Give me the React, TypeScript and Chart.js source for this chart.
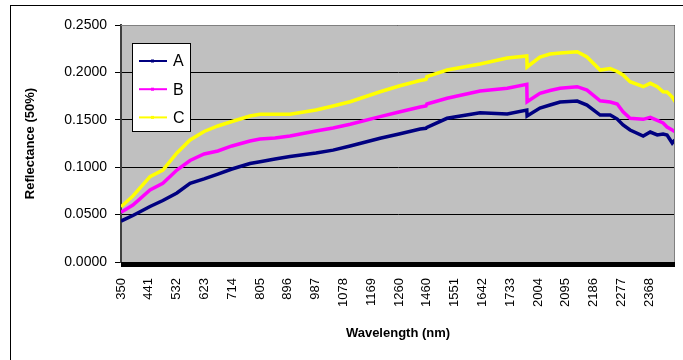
import React, { useEffect, useRef } from 'react';
import { Chart, registerables } from 'chart.js';

Chart.register(...registerables);

// ---- data ----
const seriesNames = ['A', 'B', 'C'];
const seriesColors = ['#000080', '#FF00FF', '#FFFF00'];

// wavelength ranges that are kept on the category axis (water bands removed)
const keptRanges: number[][] = [
  [350, 1350],
  [1460, 1787],
  [1968, 2452],
];

const tickLabels = ['350', '441', '532', '623', '714', '805', '896', '987', '1078', '1169', '1260', '1460', '1551', '1642', '1733', '2004', '2095', '2186', '2277', '2368'];

const wavelengths = [350, 389, 445, 487, 533, 576, 622, 667, 713, 772, 805, 854, 903, 988, 1044, 1100, 1198, 1260, 1329, 1348, 1460, 1526, 1634, 1723, 1787, 1968, 2010, 2043, 2076, 2132, 2164, 2207, 2240, 2263, 2282, 2305, 2348, 2371, 2394, 2413, 2426, 2443, 2452];

const valuesA = [0.0432, 0.049, 0.0585, 0.0649, 0.0728, 0.083, 0.0876, 0.0928, 0.0981, 0.1039, 0.1058, 0.1087, 0.1113, 0.115, 0.118, 0.1224, 0.1305, 0.135, 0.1403, 0.141, 0.142, 0.1516, 0.1575, 0.1561, 0.1603, 0.154, 0.1624, 0.1656, 0.1688, 0.1698, 0.1656, 0.155, 0.155, 0.1508, 0.1445, 0.1392, 0.1329, 0.1371, 0.134, 0.135, 0.134, 0.1255, 0.1287];
const valuesB = [0.0524, 0.0601, 0.076, 0.083, 0.097, 0.1071, 0.1139, 0.1171, 0.1224, 0.1276, 0.1297, 0.1308, 0.1329, 0.1382, 0.1413, 0.1453, 0.1533, 0.1582, 0.1635, 0.1646, 0.1667, 0.1727, 0.1804, 0.1832, 0.1874, 0.1691, 0.178, 0.1809, 0.1832, 0.1849, 0.1814, 0.1701, 0.1688, 0.1667, 0.1585, 0.1516, 0.1505, 0.1526, 0.1493, 0.1466, 0.1424, 0.1392, 0.1374];
const valuesC = [0.0583, 0.0696, 0.09, 0.097, 0.115, 0.1287, 0.1377, 0.1435, 0.1482, 0.154, 0.1558, 0.1558, 0.1558, 0.1603, 0.1646, 0.1691, 0.1796, 0.1857, 0.1915, 0.1925, 0.1955, 0.2025, 0.2089, 0.2152, 0.2173, 0.2057, 0.2162, 0.2194, 0.2205, 0.2218, 0.2162, 0.2025, 0.2041, 0.201, 0.1973, 0.1902, 0.1849, 0.1885, 0.1849, 0.1796, 0.1793, 0.174, 0.1691];

const yTitle = 'Reflectance (50%)';
const xTitle = 'Wavelength (nm)';

// category position of a wavelength on the gapped axis
function wlToIndex(wl: number): number {
  let offset = 0;
  for (const [s, e] of keptRanges) {
    if (wl <= e) return offset + Math.max(0, wl - s);
    offset += e - s + 1;
  }
  return offset - 1;
}

const FONT = "'Liberation Sans', Arial, sans-serif";

const framePlugin = {
  id: 'excelFrame',
  beforeDraw(chart: any) {
    const { ctx, chartArea: a } = chart;
    ctx.save();
    ctx.fillStyle = '#C0C0C0';
    ctx.fillRect(a.left, a.top, a.right - a.left, a.bottom - a.top);
    ctx.restore();
  },
  afterDraw(chart: any) {
    const { ctx, chartArea: a } = chart;
    ctx.save();
    // plot border
    ctx.strokeStyle = '#808080';
    ctx.lineWidth = 1;
    ctx.beginPath();
    ctx.moveTo(a.left, a.top + 0.5);
    ctx.lineTo(a.right - 0.5, a.top + 0.5);
    ctx.lineTo(a.right - 0.5, a.bottom);
    ctx.stroke();
    // dense category tick band under the axis
    ctx.fillStyle = '#000';
    ctx.fillRect(a.left, a.bottom, a.right - a.left, 5);
    // legend box
    const bx = 121, by = 37, bw = 58, bh = 88;
    ctx.fillStyle = '#fff';
    ctx.fillRect(bx, by, bw, bh);
    ctx.strokeStyle = '#000';
    ctx.strokeRect(bx + 0.5, by + 0.5, bw, bh);
    chart.data.datasets.forEach((ds: any, i: number) => {
      const y = by + 18 + i * 28.2;
      ctx.strokeStyle = ds.borderColor;
      ctx.lineWidth = 2;
      ctx.beginPath();
      ctx.moveTo(bx + 7, y);
      ctx.lineTo(bx + 35, y);
      ctx.stroke();
      ctx.fillStyle = ds.borderColor;
      ctx.fillRect(bx + 19, y - 1.5, 3, 3);
      ctx.fillStyle = '#000';
      ctx.font = `16px ${FONT}`;
      ctx.textBaseline = 'middle';
      ctx.textAlign = 'left';
      ctx.fillText(ds.label, bx + 41, y + 1);
    });
    ctx.restore();
  },
};

export default function App() {
  const canvasRef = useRef<HTMLCanvasElement | null>(null);

  useEffect(() => {
    if (!canvasRef.current) return;
    const series = [valuesA, valuesB, valuesC];
    const chart = new Chart(canvasRef.current, {
      type: 'line',
      data: {
        datasets: series.map((vals, i) => ({
          label: seriesNames[i],
          data: wavelengths.map((wl, j) => ({ x: wlToIndex(wl), y: vals[j] })),
          borderColor: seriesColors[i],
          backgroundColor: seriesColors[i],
          borderWidth: 3.5,
          pointRadius: 0,
          tension: 0,
          fill: false,
        })),
      },
      options: {
        animation: false,
        responsive: true,
        maintainAspectRatio: false,
        layout: { padding: { top: 19, right: 8, left: 0, bottom: 0 } },
        plugins: { legend: { display: false }, tooltip: { enabled: false } },
        scales: {
          x: {
            type: 'linear',
            min: 0,
            max: wlToIndex(wavelengths[wavelengths.length - 1]),
            afterBuildTicks: (scale: any) => {
              scale.ticks = tickLabels.map((t) => ({ value: wlToIndex(Number(t)) }));
            },
            afterFit: (scale: any) => {
              scale.height = 98;
            },
            ticks: {
              autoSkip: false,
              minRotation: 90,
              maxRotation: 90,
              padding: 11,
              color: '#000',
              font: { family: FONT, size: 13 },
              callback: (v: any) => {
                const k = tickLabels.findIndex((t) => wlToIndex(Number(t)) === v);
                return k >= 0 ? tickLabels[k] : '';
              },
            },
            grid: { display: true, drawOnChartArea: false, drawTicks: true, tickLength: 5, color: '#000' },
            border: { display: false },
            title: {
              display: true,
              text: xTitle,
              color: '#000',
              font: { family: FONT, size: 13, weight: 'bold' },
              padding: { top: 19, bottom: 19 },
            },
          },
          y: {
            min: 0,
            max: 0.25,
            afterFit: (scale: any) => {
              scale.width = 110;
            },
            ticks: {
              stepSize: 0.05,
              padding: 8,
              color: '#000',
              font: { family: FONT, size: 14 },
              callback: (v: any) => Number(v).toFixed(4),
            },
            grid: { color: '#000', lineWidth: 1, tickLength: 6, drawTicks: true },
            border: { display: true, color: '#404040', width: 2 },
            title: {
              display: true,
              text: yTitle,
              color: '#000',
              font: { family: FONT, size: 13, weight: 'bold' },
              padding: { top: 12, bottom: 12 },
            },
          },
        },
      },
      plugins: [framePlugin],
    } as any);
    return () => chart.destroy();
  }, []);

  return (
    <div
      style={{
        position: 'fixed',
        left: 10,
        top: 5,
        right: 0,
        bottom: 0,
        borderLeft: '1px solid #000',
        borderTop: '1px solid #000',
        boxSizing: 'border-box',
        background: '#fff',
        overflow: 'hidden',
      }}
    >
      <div style={{ position: 'relative', width: '100%', height: '100%' }}>
        <canvas ref={canvasRef} style={{ display: 'block' }} />
      </div>
    </div>
  );
}
